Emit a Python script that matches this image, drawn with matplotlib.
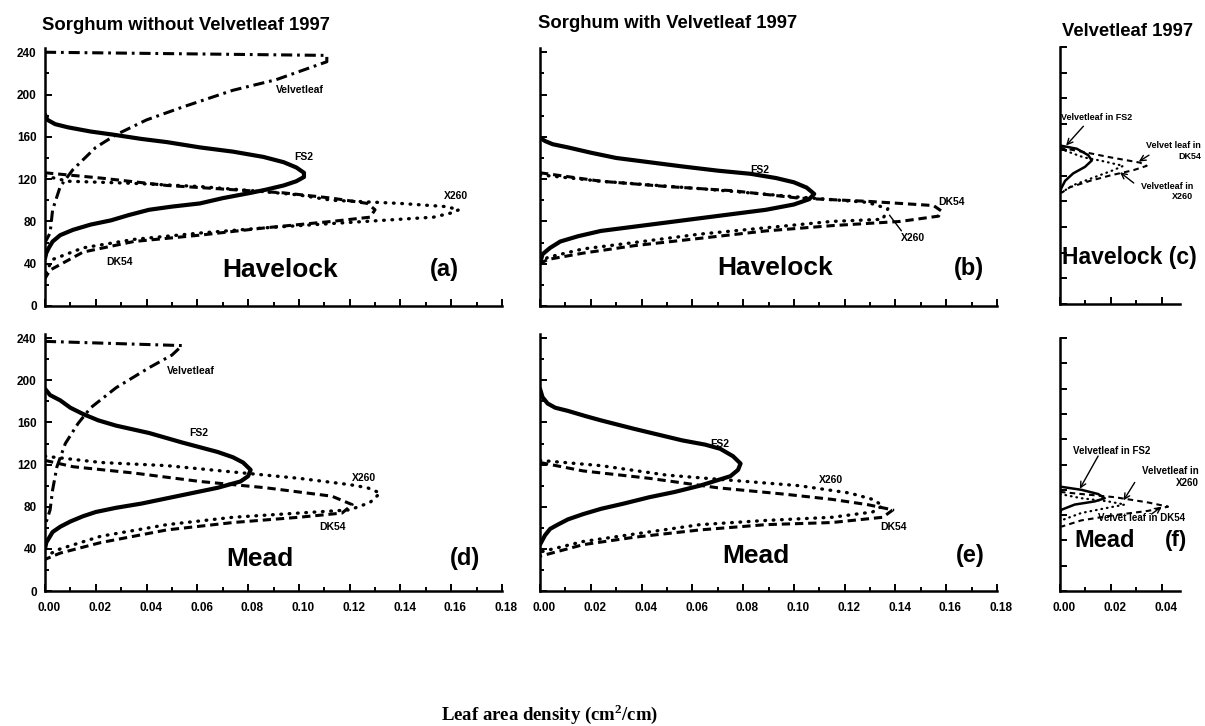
import matplotlib
matplotlib.use('Agg')

import matplotlib.pyplot as plt
import matplotlib.transforms as mtransforms
import numpy as np

plt.rcParams['font.family'] = ['Liberation Sans', 'DejaVu Sans']
plt.rcParams['font.weight'] = 'bold'
plt.rcParams['lines.scale_dashes'] = False
plt.rcParams['mathtext.fontset'] = 'custom'
plt.rcParams['mathtext.bf'] = 'Liberation Serif:bold'
plt.rcParams['mathtext.rm'] = 'Liberation Serif:bold'

# ---- data: leaf area density (x) against height (cm) ----
# (a) Havelock, sorghum without velvetleaf
a_fs2_x = [0.000, 0.001, 0.004, 0.009, 0.018, 0.027, 0.038, 0.048, 0.061, 0.074, 0.086, 0.094, 0.099, 0.102, 0.102,
           0.099, 0.094, 0.087, 0.081, 0.070, 0.061, 0.050, 0.041, 0.033, 0.026, 0.018, 0.011, 0.006, 0.003, 0.0015,
           0.0005, 0.000]
a_fs2_h = [181, 176, 172, 169, 165, 162, 158, 155, 150, 146, 141, 136, 131, 126, 122,
           118, 114, 110, 107, 102, 97, 94, 91, 86, 81, 77, 72, 67, 61, 55,
           50, 45]
a_dk54_x = [0.000, 0.022, 0.048, 0.074, 0.094, 0.113, 0.127, 0.130, 0.128, 0.113, 0.087, 0.061, 0.035, 0.015, 0.002, 0.000]
a_dk54_h = [126, 121, 114, 110, 107, 102, 97, 91, 84, 80, 74, 67, 61, 51, 34, 26]
a_x260_x = [0.000, 0.009, 0.035, 0.061, 0.087, 0.100, 0.113, 0.140, 0.158, 0.163, 0.160, 0.153, 0.133, 0.113, 0.087, 0.061, 0.035, 0.015, 0.003, 0.001, 0.000]
a_x260_h = [123, 118, 116, 113, 108, 105, 100, 97, 94, 91, 88, 84, 81, 78, 74, 69, 63, 55, 44, 35, 27]
a_vel_x = [0.000, 0.111, 0.111, 0.091, 0.074, 0.054, 0.040, 0.028, 0.020, 0.011, 0.006, 0.003, 0.002, 0.000]
a_vel_h = [240, 237, 231, 214, 204, 188, 176, 162, 150, 129, 113, 91, 69, 60]

# (b) Havelock, sorghum with velvetleaf
b_fs2_x = [0.000, 0.002, 0.005, 0.011, 0.020, 0.030, 0.043, 0.056, 0.070, 0.083, 0.093, 0.100, 0.105, 0.108, 0.106,
           0.100, 0.089, 0.076, 0.063, 0.050, 0.037, 0.024, 0.015, 0.008, 0.004, 0.001, 0.000]
b_fs2_h = [159, 156, 153, 150, 145, 140, 136, 132, 128, 125, 121, 117, 112, 106, 101,
           96, 91, 87, 83, 79, 75, 71, 66, 61, 55, 49, 40]
b_dk54_x = [0.000, 0.024, 0.050, 0.076, 0.102, 0.129, 0.155, 0.158, 0.157, 0.142, 0.115, 0.089, 0.063, 0.037, 0.017, 0.003, 0.000]
b_dk54_h = [126, 118, 113, 109, 102, 99, 95, 90, 85, 80, 76, 71, 64, 57, 50, 44, 40]
b_x260_x = [0.000, 0.024, 0.063, 0.102, 0.129, 0.137, 0.135, 0.115, 0.089, 0.063, 0.037, 0.017, 0.003, 0.000]
b_x260_h = [124, 118, 111, 103, 98, 92, 82, 80, 74, 68, 60, 54, 46, 40]

# (c) Havelock, velvetleaf
c_fs2_x = [0.000, 0.0066, 0.0111, 0.0125, 0.0098, 0.0052, 0.0020, 0.0005, 0.000]
c_fs2_h = [148, 145, 139, 134, 128, 122, 115, 108, 104]
c_dk54_x = [0.000, 0.0092, 0.0197, 0.0315, 0.0341, 0.0289, 0.0197, 0.0118, 0.0039, 0.0007]
c_dk54_h = [146, 142, 137, 132, 129, 125, 120, 115, 109, 104]
c_x260_x = [0.000, 0.0092, 0.0157, 0.0249, 0.0210, 0.0131, 0.0052, 0.0005]
c_x260_h = [145, 137, 134, 129, 125, 118, 111, 104]

# (d) Mead, sorghum without velvetleaf
d_fs2_x = [0.000, 0.002, 0.006, 0.010, 0.015, 0.021, 0.028, 0.041, 0.054, 0.068, 0.074, 0.078, 0.081, 0.080,
           0.077, 0.068, 0.058, 0.048, 0.038, 0.028, 0.020, 0.015, 0.010, 0.006, 0.003, 0.002, 0.0005, 0.000]
d_fs2_h = [192, 186, 181, 174, 168, 162, 157, 150, 141, 132, 127, 122, 115, 109,
           104, 98, 93, 88, 83, 79, 75, 71, 66, 61, 56, 52, 46, 40]
d_dk54_x = [0.000, 0.011, 0.035, 0.061, 0.087, 0.113, 0.121, 0.117, 0.100, 0.074, 0.048, 0.022, 0.006, 0.000]
d_dk54_h = [124, 118, 112, 104, 98, 90, 82, 74, 70, 65, 58, 46, 36, 30]
d_x260_x = [0.000, 0.022, 0.048, 0.074, 0.100, 0.120, 0.127, 0.132, 0.128, 0.120, 0.100, 0.074, 0.048, 0.022, 0.006, 0.000]
d_x260_h = [128, 122, 119, 113, 107, 101, 98, 93, 84, 77, 74, 70, 63, 52, 40, 33]
d_vel_x = [0.000, 0.054, 0.050, 0.041, 0.028, 0.018, 0.013, 0.008, 0.0047, 0.003, 0.002, 0.000]
d_vel_h = [237, 233, 224, 212, 193, 174, 159, 140, 118, 96, 77, 62]

# (e) Mead, sorghum with velvetleaf
e_fs2_x = [0.000, 0.001, 0.003, 0.006, 0.011, 0.018, 0.024, 0.037, 0.056, 0.065, 0.071, 0.076, 0.079, 0.078,
           0.075, 0.063, 0.053, 0.043, 0.033, 0.024, 0.017, 0.011, 0.007, 0.004, 0.002, 0.000]
e_fs2_h = [192, 184, 178, 174, 171, 166, 162, 154, 143, 139, 135, 128, 121, 115,
           109, 100, 94, 89, 83, 78, 73, 68, 63, 59, 53, 44]
e_dk54_x = [0.000, 0.017, 0.043, 0.070, 0.096, 0.115, 0.129, 0.139, 0.135, 0.115, 0.089, 0.063, 0.037, 0.017, 0.000]
e_dk54_h = [122, 114, 107, 98, 92, 87, 82, 77, 70, 65, 63, 58, 51, 44, 33]
e_x260_x = [0.000, 0.024, 0.050, 0.076, 0.102, 0.122, 0.131, 0.135, 0.131, 0.115, 0.089, 0.063, 0.037, 0.017, 0.000]
e_x260_h = [124, 119, 110, 105, 100, 93, 87, 81, 75, 70, 67, 63, 54, 47, 37]

# (f) Mead, velvetleaf
f_fs2_x = [0.000, 0.0084, 0.0150, 0.0176, 0.0137, 0.0058, 0.0005, 0.000]
f_fs2_h = [99, 96, 92, 88, 85, 82, 77, 74]
f_dk54_x = [0.000, 0.0084, 0.0215, 0.0346, 0.0425, 0.0346, 0.0215, 0.0084, 0.0005]
f_dk54_h = [94, 92, 89, 84, 80, 76, 72, 67, 61]
f_x260_x = [0.000, 0.0084, 0.0189, 0.0255, 0.0189, 0.0084, 0.0005]
f_x260_h = [92, 88, 85, 82, 79, 74, 67]

W, H = 1205, 726
fig = plt.figure(figsize=(W / 100, H / 100), dpi=100)


def rect(x0, x1, ytop, ybot):
    return [x0 / W, 1 - ybot / H, (x1 - x0) / W, (ybot - ytop) / H]


ax_a = fig.add_axes(rect(45, 502, 48, 306))
ax_b = fig.add_axes(rect(540, 997, 48, 306))
ax_c = fig.add_axes(rect(1060, 1180, 47, 304))
ax_d = fig.add_axes(rect(45, 502, 334, 591))
ax_e = fig.add_axes(rect(540, 997, 334, 591))
ax_f = fig.add_axes(rect(1060, 1180, 338, 591))

big = [ax_a, ax_b, ax_d, ax_e]
small = [ax_c, ax_f]

for ax in big + small:
    for s in ['top', 'right']:
        ax.spines[s].set_visible(False)
    for s in ['left', 'bottom']:
        ax.spines[s].set_linewidth(1.8)
    ax.tick_params(which='both', direction='in', width=1.4, labelsize=8.5)
    ax.tick_params(which='major', length=5)
    ax.tick_params(which='minor', length=3)
    ax.tick_params(axis='x', pad=8)
    ax.tick_params(axis='y', pad=6)

for ax in big:
    ax.set_xlim(0, 0.18)
    ax.set_ylim(0, 244)
    ax.set_xticks(np.arange(0, 0.181, 0.02))
    ax.set_xticks(np.arange(0, 0.181, 0.01), minor=True)
    ax.set_yticks(np.arange(0, 241, 40))
    ax.set_yticks(np.arange(0, 241, 20), minor=True)

for ax in small:
    ax.set_xlim(0, 0.0472)
    ax.set_ylim(0, 240)
    ax.set_xticks([0, 0.02, 0.04])
    ax.set_xticks(np.arange(0, 0.047, 0.01), minor=True)
    ax.set_yticks(np.arange(0, 241, 24))

for ax in [ax_a, ax_b, ax_c]:
    ax.tick_params(axis='x', labelbottom=False)
for ax in [ax_b, ax_c, ax_e, ax_f]:
    ax.tick_params(axis='y', labelleft=False)
shift = mtransforms.ScaledTranslation(3 / 72, 0, fig.dpi_scale_trans)
for ax in [ax_d, ax_e, ax_f]:
    ax.set_xticklabels(['%.2f' % t for t in ax.get_xticks()])
    for t in ax.get_xticklabels():
        t.set_transform(t.get_transform() + shift)
for ax in [ax_a, ax_d]:
    ax.set_yticklabels(['%d' % t for t in ax.get_yticks()])

solid = dict(color='black', lw=3.0, solid_capstyle='round', solid_joinstyle='round')
dash = dict(color='black', lw=2.2, linestyle=(0, (6, 3.5)))
dot = dict(color='black', lw=2.4, linestyle=(0, (0.5, 5.5)), dash_capstyle='round')
dashdot = dict(color='black', lw=2.2, linestyle=(0, (8, 3.5, 2, 3.5)))

ax_a.plot(a_vel_x, a_vel_h, **dashdot)
ax_a.plot(a_dk54_x, a_dk54_h, **dash)
ax_a.plot(a_x260_x, a_x260_h, **dot)
ax_a.plot(a_fs2_x, a_fs2_h, **solid)

ax_b.plot(b_dk54_x, b_dk54_h, **dash)
ax_b.plot(b_x260_x, b_x260_h, **dot)
ax_b.plot(b_fs2_x, b_fs2_h, **solid)

ax_d.plot(d_vel_x, d_vel_h, **dashdot)
ax_d.plot(d_dk54_x, d_dk54_h, **dash)
ax_d.plot(d_x260_x, d_x260_h, **dot)
ax_d.plot(d_fs2_x, d_fs2_h, **solid)

ax_e.plot(e_dk54_x, e_dk54_h, **dash)
ax_e.plot(e_x260_x, e_x260_h, **dot)
ax_e.plot(e_fs2_x, e_fs2_h, **solid)

sm_solid = dict(color='black', lw=1.8, solid_joinstyle='round')
sm_dash = dict(color='black', lw=1.5, linestyle=(0, (4, 3)))
sm_dot = dict(color='black', lw=1.6, linestyle=(0, (0.5, 3.5)), dash_capstyle='round')
for ax, fx, fh, dx, dh, xx, xh in [
        (ax_c, c_fs2_x, c_fs2_h, c_dk54_x, c_dk54_h, c_x260_x, c_x260_h),
        (ax_f, f_fs2_x, f_fs2_h, f_dk54_x, f_dk54_h, f_x260_x, f_x260_h)]:
    ax.plot(dx, dh, **sm_dash)
    ax.plot(xx, xh, **sm_dot)
    ax.plot(fx, fh, **sm_solid)

# curve labels
lab = dict(fontsize=7.5, fontweight='bold', ha='left', va='center')
ax_a.text(0.091, 204, 'Velvetleaf', **lab)
ax_a.text(0.098, 141, 'FS2', **lab)
ax_a.text(0.157, 104, 'X260', **lab)
ax_a.text(0.024, 42, 'DK54', **lab)

ax_b.text(0.083, 129, 'FS2', **lab)
ax_b.text(0.157, 98, 'DK54', **lab)
ax_b.text(0.142, 64, 'X260', **lab)
ax_b.annotate('', xy=(0.137, 88), xytext=(0.143, 69),
              arrowprops=dict(arrowstyle='-', lw=1.0, color='black'))

ax_d.text(0.048, 209, 'Velvetleaf', **lab)
ax_d.text(0.057, 150, 'FS2', **lab)
ax_d.text(0.121, 107, 'X260', **lab)
ax_d.text(0.108, 61, 'DK54', **lab)

ax_e.text(0.067, 140, 'FS2', **lab)
ax_e.text(0.110, 105, 'X260', **lab)
ax_e.text(0.134, 61, 'DK54', **lab)

arr = dict(arrowstyle='->', lw=1.0, color='black', shrinkA=0, shrinkB=0)
sl = dict(fontsize=6.5, fontweight='bold', va='center')
ax_c.text(0.0005, 174, 'Velvetleaf in FS2', ha='left', **sl)
ax_c.annotate('', xy=(0.0024, 148), xytext=(0.0092, 166), arrowprops=arr)
ax_c.text(0.0555, 143, 'Velvet leaf in\nDK54', ha='right', multialignment='right', **sl)
ax_c.annotate('', xy=(0.031, 133), xytext=(0.035, 139), arrowprops=arr)
ax_c.text(0.0525, 105, 'Velvetleaf in\nX260', ha='right', multialignment='right', **sl)
ax_c.annotate('', xy=(0.0236, 123), xytext=(0.029, 113), arrowprops=arr)

sf = dict(fontsize=7, fontweight='bold', va='center')
ax_f.text(0.005, 133, 'Velvetleaf in FS2', ha='left', **sf)
ax_f.annotate('', xy=(0.0078, 97), xytext=(0.015, 128), arrowprops=arr)
ax_f.text(0.0545, 108, 'Velvetleaf in\nX260', ha='right', multialignment='right', **sf)
ax_f.annotate('', xy=(0.025, 86), xytext=(0.0294, 103), arrowprops=arr)
ax_f.text(0.015, 69, 'Velvet leaf in DK54', ha='left', **sf)
ax_f.annotate('', xy=(0.040, 80), xytext=(0.036, 73), arrowprops=arr)

# site names and panel letters
for ax, name, nx, letter, lx, y in [
        (ax_a, 'Havelock', 0.514, '(a)', 0.875, 0.14),
        (ax_b, 'Havelock', 0.514, '(b)', 0.939, 0.147),
        (ax_d, 'Mead', 0.47, '(d)', 0.919, 0.125),
        (ax_e, 'Mead', 0.473, '(e)', 0.941, 0.137)]:
    ax.text(nx, y, name, fontsize=19, fontweight='bold', ha='center', va='center', transform=ax.transAxes)
    ax.text(lx, y, letter, fontsize=17, fontweight='bold', ha='center', va='center', transform=ax.transAxes)

ax_c.text(0.02, 0.18, 'Havelock (c)', fontsize=16.5, fontweight='bold', ha='left', va='center', transform=ax_c.transAxes)
ax_f.text(0.37, 0.2, 'Mead', fontsize=17, fontweight='bold', ha='center', va='center', transform=ax_f.transAxes)
ax_f.text(0.97, 0.2, '(f)', fontsize=16, fontweight='bold', ha='center', va='center', transform=ax_f.transAxes)

# titles
fig.text(42 / W, 1 - 25 / H, 'Sorghum without Velvetleaf 1997', fontsize=13.3, fontweight='bold', ha='left', va='center')
fig.text(538 / W, 1 - 23 / H, 'Sorghum with Velvetleaf 1997', fontsize=13.3, fontweight='bold', ha='left', va='center')
fig.text(1062 / W, 1 - 31 / H, 'Velvetleaf 1997', fontsize=13.3, fontweight='bold', ha='left', va='center')

fig.text(550 / W, 1 - 714 / H, 'Leaf area density (cm$^{\\mathbf{2}}$/cm)', fontsize=13.5,
         fontweight='bold', family='Liberation Serif', ha='center', va='center')

plt.savefig('out.png', dpi=100)
